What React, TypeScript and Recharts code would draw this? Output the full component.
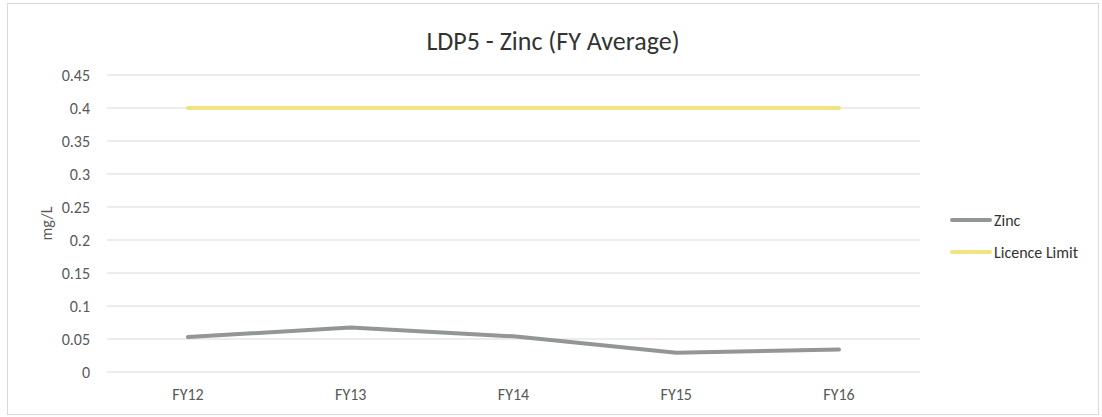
import React from 'react';
import { LineChart, Line, XAxis, YAxis, CartesianGrid, Legend } from 'recharts';

// FY averages for LDP5 zinc
const years = ['FY12', 'FY13', 'FY14', 'FY15', 'FY16'];
const zinc = [0.053, 0.0675, 0.054, 0.029, 0.034];
const licenceLimit = [0.4, 0.4, 0.4, 0.4, 0.4];
const yTicks = [0, 0.05, 0.1, 0.15, 0.2, 0.25, 0.3, 0.35, 0.4, 0.45];
const seriesOrder = ['Zinc', 'Licence Limit'];

const data = years.map((fy, i) => ({ fy, zinc: zinc[i], limit: licenceLimit[i] }));

const FONT = 'Carlito, Calibri, Lato, sans-serif';
const TEXT = '#595959';
const ZINC_COLOR = '#929696';
const LIMIT_COLOR = '#efe47f';

function LegendBox({ payload }: any) {
  const items = [...(payload || [])].sort(
    (a: any, b: any) => seriesOrder.indexOf(a.value) - seriesOrder.indexOf(b.value)
  );
  return (
    <div style={{ paddingLeft: 30, fontFamily: FONT, fontSize: 16, color: '#333' }}>
      {items.map((p: any) => (
        <div key={p.value} style={{ display: 'flex', alignItems: 'center', height: 20, marginBottom: 12 }}>
          <svg width={42} height={8} style={{ marginRight: 2 }}>
            <line x1={2} y1={4} x2={40} y2={4} stroke={p.color} strokeWidth={4} strokeLinecap="round" />
          </svg>
          <span>{p.value}</span>
        </div>
      ))}
    </div>
  );
}

export default function App() {
  return (
    <div
      style={{
        position: 'absolute',
        left: 7,
        top: 3,
        width: 1092,
        height: 412,
        border: '1px solid #d9d9d9',
        boxSizing: 'border-box',
        background: '#fff',
      }}
    >
      <div
        style={{
          position: 'absolute',
          left: 0,
          right: 0,
          top: 22,
          textAlign: 'center',
          fontFamily: FONT,
          fontSize: 26,
          color: '#333',
          lineHeight: '30px',
        }}
      >
        LDP5 - Zinc (FY Average)
      </div>
      <LineChart width={1090} height={410} data={data} margin={{ top: 71, right: 8, bottom: 12, left: 39 }}>
        <CartesianGrid horizontal vertical={false} stroke="#d9d9d9" />
        <XAxis
          dataKey="fy"
          height={30}
          axisLine={false}
          tickLine={false}
          tickSize={0}
          tickMargin={17}
          padding={{ left: 81, right: 81 }}
          tick={{ fill: TEXT, fontSize: 16, fontFamily: FONT }}
        />
        <YAxis
          width={60}
          domain={[0, 0.45]}
          ticks={yTicks}
          interval={0}
          axisLine={false}
          tickLine={false}
          tickSize={0}
          tickMargin={17}
          tick={{ fill: TEXT, fontSize: 16, fontFamily: FONT }}
          label={({ viewBox }: any) => {
            const cx = viewBox.x - 1;
            const cy = viewBox.y + viewBox.height / 2;
            return (
              <text
                x={cx}
                y={cy}
                transform={`rotate(-90 ${cx} ${cy})`}
                textAnchor="middle"
                dominantBaseline="central"
                fill={TEXT}
                fontSize={16}
                fontFamily={FONT}
              >
                mg/L
              </text>
            );
          }}
        />
        <Legend
          layout="vertical"
          align="right"
          verticalAlign="middle"
          width={170}
          wrapperStyle={{ top: 206 }}
          content={<LegendBox />}
        />
        <Line
          dataKey="zinc"
          name="Zinc"
          stroke={ZINC_COLOR}
          strokeWidth={4}
          strokeLinecap="round"
          dot={false}
          activeDot={false}
          isAnimationActive={false}
        />
        <Line
          dataKey="limit"
          name="Licence Limit"
          stroke={LIMIT_COLOR}
          strokeWidth={4}
          strokeLinecap="round"
          dot={false}
          activeDot={false}
          isAnimationActive={false}
        />
      </LineChart>
    </div>
  );
}
